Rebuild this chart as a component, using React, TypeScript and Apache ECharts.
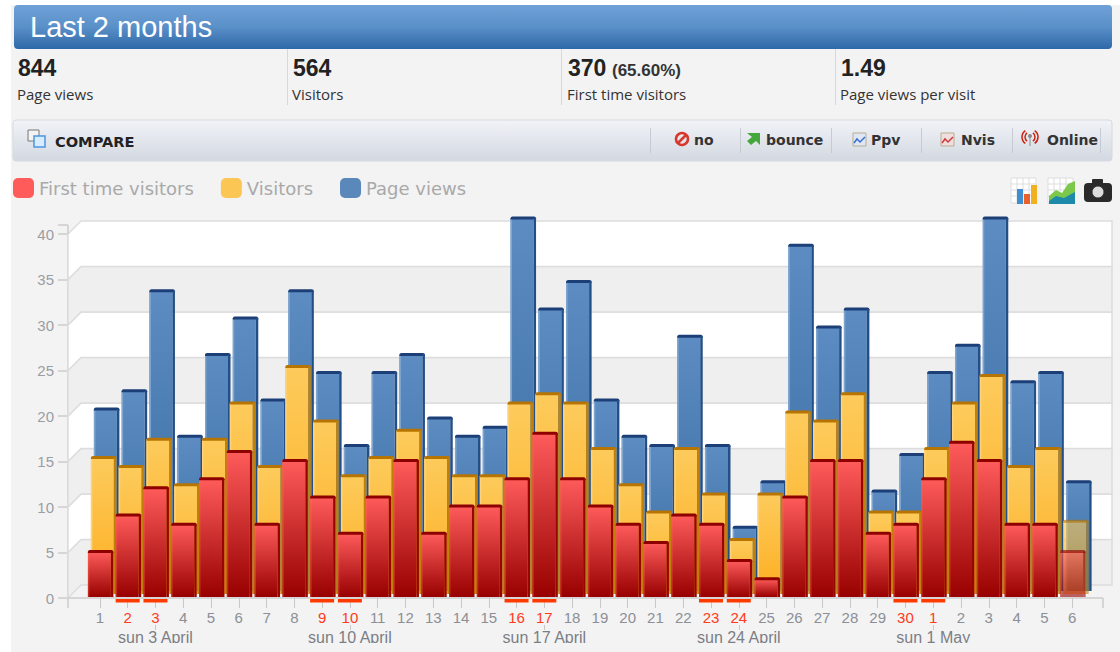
import React, { useEffect, useRef } from "react";
import * as echarts from "echarts";

const dayLabels = ["1","2","3","4","5","6","7","8","9","10","11","12","13","14","15","16","17","18","19","20","21","22","23","24","25","26","27","28","29","30","1","2","3","4","5","6"];
const pageViews = [20,22,33,17,26,30,21,33,24,16,24,26,19,17,18,41,31,34,21,17,16,28,16,7,12,38,29,31,11,15,24,27,41,23,24,12];
const visitors = [15,14,17,12,17,21,14,25,19,13,15,18,15,13,13,21,22,21,16,12,9,16,11,6,11,20,19,22,9,9,16,21,24,14,16,8];
const firstTime = [5,9,12,8,13,16,8,15,11,7,11,15,7,10,10,13,18,13,10,8,6,9,8,4,2,11,15,15,7,8,13,17,15,8,8,5];
const weekendIdx = [1,2,8,9,15,16,22,23,29,30];
const sundayLabels: Record<number, string> = { 2: "sun 3 April", 9: "sun 10 April", 16: "sun 17 April", 23: "sun 24 April", 30: "sun 1 May" };
const partialIdx = 35;
const yBands = [[0,5],[5,10],[10,15],[15,20],[20,25],[25,30],[30,35],[35,40]];
const statValues = ["844","564","370","1.49"];
const statLabels = ["Page views","Visitors","First time visitors","Page views per visit"];
const compareButtons = ["no","bounce","Ppv","Nvis","Online"];

const LABEL_FONT = "Liberation Sans";
const VERDANA = "DejaVu Sans";
const lg = (stops: string[]) => new echarts.graphic.LinearGradient(0, 0, 0, 1, stops.map((c, i) => ({ offset: i / (stops.length - 1), color: c })));

function barSeries(name: string, values: number[], dx: number, dy: number, legendColor: string, top: string, bottom: string, highlight: string, capEdge: string, sideEdge: string, translucent: boolean) {
  return {
    type: "custom", name, itemStyle: { color: legendColor }, z: 3, silent: true,
    encode: { x: 0, y: 1 }, clip: false,
    data: values.map((v, i) => [i, v]),
    renderItem: (_p: any, api: any) => {
      const i = api.value(0); const v = api.value(1);
      const [cx, yTop] = api.coord([i, v]); const [, y0] = api.coord([i, 0]);
      const w = 23;
      const x = cx - 12 + dx; const y = yTop + dy; const h = y0 + dy - y;
      const op = translucent && i === partialIdx ? 0.62 : 1;
      return { type: "group", children: [
        { type: "rect", shape: { x, y, width: w, height: h }, style: { fill: lg([top, bottom]), opacity: op } },
        { type: "rect", shape: { x, y, width: 1.5, height: h }, style: { fill: highlight, opacity: op } },
        { type: "rect", shape: { x, y: y - 1.5, width: w + 2.5, height: 3, r: [2, 2, 0, 0] }, style: { fill: capEdge, opacity: op } },
        { type: "rect", shape: { x: x + w, y: y, width: 2.5, height: h }, style: { fill: sideEdge, opacity: op } },
      ] };
    },
  };
}

function chromeElements(): any[] {
  const el: any[] = [];
  const T = (x: number, y: number, text: string, font: any) => el.push({ type: "text", x, y, style: { text, textVerticalAlign: "middle", verticalAlign: "middle", ...font } });
  el.push({ type: "rect", z: -20, shape: { x: 11, y: 5, width: 1109, height: 647 }, style: { fill: "#f3f3f3" } });
  el.push({ type: "rect", shape: { x: 14, y: 5, width: 1098, height: 44, r: 4 }, style: { fill: lg(["#6fa1d8", "#5a90c8", "#2e68a8"]) } });
  T(30, 27, "Last 2 months", { fill: "#fff", font: `29px "${LABEL_FONT}"` });
  const sx = [18, 293, 568, 841];
  statValues.forEach((s, i) => {
    T(sx[i], 68, s, { fill: "#222", font: `bold 23px "${LABEL_FONT}"` });
    T(sx[i] - 1, 94, statLabels[i], { fill: "#333", font: `15px "Open Sans"` });
  });
  T(612, 70, "(65.60%)", { fill: "#333", font: `bold 17px "${LABEL_FONT}"` });
  [287, 561, 835].forEach((x) => el.push({ type: "rect", shape: { x, y: 49, width: 1, height: 56 }, style: { fill: "#d8d8d8" } }));
  el.push({ type: "rect", shape: { x: 13, y: 120, width: 1099, height: 41, r: 3 }, style: { fill: lg(["#f1f3f7", "#d3d8e1"]), stroke: "#d5d9e0", lineWidth: 1 } });
  T(55, 141, "COMPARE", { fill: "#222", font: `bold 14.6px "${VERDANA}"` });
  el.push({ type: "rect", shape: { x: 28, y: 130, width: 11, height: 11 }, style: { fill: "#f3f3f3", stroke: "#777", lineWidth: 1 } });
  el.push({ type: "rect", shape: { x: 34, y: 136, width: 11, height: 11 }, style: { fill: "#d8ecff", stroke: "#4d94e0", lineWidth: 1.5 } });
  [650, 740, 831, 921, 1012, 1100].forEach((x) => el.push({ type: "rect", shape: { x, y: 128, width: 1, height: 25 }, style: { fill: "#c6cbd3" } }));
  const bx = [694, 766, 871, 961, 1047];
  compareButtons.forEach((s, i) => T(bx[i], 140, s, { fill: "#333", font: `bold 14px "${VERDANA}"` }));
  // no icon
  el.push({ type: "circle", shape: { cx: 682, cy: 139, r: 6 }, style: { fill: "none", stroke: "#d8382c", lineWidth: 2.5 } });
  el.push({ type: "line", shape: { x1: 678, y1: 143, x2: 686, y2: 135 }, style: { stroke: "#d8382c", lineWidth: 2.5 } });
  // bounce icon
  el.push({ type: "polygon", shape: { points: [[747,133],[760,133],[760,145],[756,141],[751,145],[747,141],[752,137]] }, style: { fill: "#45a83c" } });
  // ppv & nvis icons
  ([[853, "#3b6fd0", "#dfe6f4"], [941, "#cc3b3b", "#f0dfdf"]] as [number, string, string][]).forEach(([x, c, b]) => {
    el.push({ type: "rect", shape: { x, y: 133, width: 13, height: 13 }, style: { fill: b, stroke: "#b9ad8f", lineWidth: 1 } });
    el.push({ type: "polyline", shape: { points: [[x + 1, 143], [x + 4, 139], [x + 7, 142], [x + 12, 137]] }, style: { stroke: c, lineWidth: 1.5, fill: "none" } });
  });
  // online icon
  [5, 8].forEach((r) => {
    el.push({ type: "arc", shape: { cx: 1030, cy: 137, r, startAngle: Math.PI * 0.7, endAngle: Math.PI * 1.3 }, style: { stroke: "#cc2211", lineWidth: 1.5, fill: "none" } });
    el.push({ type: "arc", shape: { cx: 1030, cy: 137, r, startAngle: -Math.PI * 0.3, endAngle: Math.PI * 0.3 }, style: { stroke: "#cc2211", lineWidth: 1.5, fill: "none" } });
  });
  el.push({ type: "circle", shape: { cx: 1030, cy: 136, r: 2 }, style: { fill: "#888" } });
  el.push({ type: "line", shape: { x1: 1030, y1: 138, x2: 1030, y2: 146 }, style: { stroke: "#aaa", lineWidth: 1.5 } });
  // top right icons: grid
  [1011, 1048].forEach((x0) => {
    el.push({ type: "rect", shape: { x: x0, y: 178, width: 25, height: 25 }, style: { fill: "#fff", stroke: "#ddd", lineWidth: 1 } });
    for (let k = 1; k < 4; k++) {
      el.push({ type: "line", shape: { x1: x0 + k * 6, y1: 178, x2: x0 + k * 6, y2: 203 }, style: { stroke: "#ddd", lineWidth: 1 } });
      el.push({ type: "line", shape: { x1: x0, y1: 178 + k * 6, x2: x0 + 25, y2: 178 + k * 6 }, style: { stroke: "#ddd", lineWidth: 1 } });
    }
  });
  el.push({ type: "rect", shape: { x: 1017, y: 189, width: 6, height: 15 }, style: { fill: "#3f8fd0" } });
  el.push({ type: "rect", shape: { x: 1024, y: 194, width: 6, height: 10 }, style: { fill: "#e8622c" } });
  el.push({ type: "rect", shape: { x: 1031, y: 185, width: 6, height: 19 }, style: { fill: "#f0b020" } });
  el.push({ type: "polygon", shape: { points: [[1049,196],[1056,190],[1062,193],[1068,184],[1075,181],[1075,204],[1049,204]] }, style: { fill: "#7cc84a" } });
  el.push({ type: "polygon", shape: { points: [[1049,201],[1056,196],[1064,198],[1075,192],[1075,204],[1049,204]] }, style: { fill: "#1c8aa8" } });
  el.push({ type: "rect", shape: { x: 1084, y: 183, width: 28, height: 19, r: 4 }, style: { fill: "#2a2a2a" } });
  el.push({ type: "rect", shape: { x: 1092, y: 179, width: 11, height: 6, r: 1 }, style: { fill: "#2a2a2a" } });
  el.push({ type: "circle", shape: { cx: 1098, cy: 192, r: 6 }, style: { fill: "#ddd", stroke: "#2a2a2a", lineWidth: 1 } });
  // clips the lower part of the date row, as in the reference
  el.push({ type: "rect", z: 50, shape: { x: 11, y: 643, width: 1109, height: 9 }, style: { fill: "#f3f3f3" } });
  return el;
}

export default function App() {
  const ref = useRef<HTMLDivElement>(null);
  useEffect(() => {
    document.body.style.margin = "0";
    const chart = echarts.init(ref.current!, undefined, { renderer: "svg" });
    const DEPTH = 13;
    chart.setOption({
      animation: false,
      grid: { left: 86, right: 34, top: 234, bottom: 54, containLabel: false },
      legend: {
        left: 13, top: 178, padding: 0, itemWidth: 21, itemHeight: 20, itemGap: 27, selectedMode: false,
        icon: "roundRect",
        data: ["First time visitors", "Visitors", "Page views"],
        textStyle: { color: "#a9a9a9", fontSize: 18, fontFamily: VERDANA },
      },
      xAxis: [
        {
          type: "category", data: dayLabels, position: "bottom",
          axisLine: { show: false },
          axisTick: { show: true, alignWithLabel: true, length: 10, lineStyle: { color: "#c8c8c8", width: 1 } },
          axisLabel: {
            interval: 0, margin: 12, fontSize: 15, fontFamily: LABEL_FONT,
            color: (_v: any, i: number) => (weekendIdx.includes(i) ? "#ff3b1a" : "#8c8f96"),
          },
        },
        {
          type: "category", data: dayLabels.map((_, i) => sundayLabels[i] ?? ""), position: "bottom", offset: 27,
          axisLine: { show: false },
          axisTick: { show: true, alignWithLabel: true, length: 5, interval: (i: number) => i in sundayLabels, lineStyle: { color: "#c8c8c8" } },
          axisLabel: { interval: 0, margin: 4, fontSize: 16, fontFamily: LABEL_FONT, color: "#7b7e85", hideOverlap: false },
        },
      ],
      yAxis: {
        type: "value", min: 0, max: 40, interval: 5, position: "left", offset: 18,
        axisLine: { show: true, lineStyle: { color: "#cccccc", width: 1.5 } },
        axisTick: { show: true, length: 10, lineStyle: { color: "#cccccc", width: 1.5 } },
        axisLabel: { margin: 14, fontSize: 15, fontFamily: LABEL_FONT, color: "#9a9da3" },
        splitLine: { show: false },
      },
      series: [
        {
          type: "custom", name: "wall", silent: true, z: 1, clip: false, encode: { y: [0, 1] },
          data: yBands,
          renderItem: (p: any, api: any) => {
            const cs = p.coordSys;
            const l = cs.x - 18; const r = cs.x + cs.width + 26;
            const lo = api.coord([0, api.value(0)])[1]; const hi = api.coord([0, api.value(1)])[1];
            return { type: "polygon",
              shape: { points: [[l, lo], [l + DEPTH, lo - DEPTH], [r, lo - DEPTH], [r, hi - DEPTH], [l + DEPTH, hi - DEPTH], [l, hi]] },
              style: { fill: p.dataIndex % 2 === 0 ? "#efefef" : "#ffffff", stroke: "#dddddd", lineWidth: 1.5 } };
          },
        },
        {
          type: "custom", name: "floor", silent: true, z: 2, clip: false, encode: { y: 0 }, data: [[0]],
          renderItem: (p: any, api: any) => {
            const cs = p.coordSys;
            const y0 = api.coord([0, 0])[1];
            const yTop = api.coord([0, 40])[1];
            const l = cs.x - 18; const r = cs.x + cs.width + 17;
            const ln = (x1: number, y1: number, x2: number, y2: number) => ({ type: "line", shape: { x1, y1, x2, y2 }, style: { stroke: "#cccccc", lineWidth: 1.5 } });
            return { type: "group", children: [ln(l, y0, r, y0), ln(l, y0, l, y0 + 10), ln(r, y0, r, y0 + 10), ln(l, yTop, l, yTop - 9), ln(l - 10, yTop - 9, l, yTop - 9)] };
          },
        },
        barSeries("Page views", pageViews, 6, -7, "#5b88bb", "#5c8cc2", "#376a9f", "#7fa5cf", "#1c3f78", "#234f88", false),
        barSeries("Visitors", visitors, 3, -4, "#fcc655", "#fdcb5c", "#fdae20", "#fdd27a", "#b87400", "#c0800a", true),
        barSeries("First time visitors", firstTime, 0, -1, "#ff5b5b", "#ff5c5c", "#980000", "rgba(255,110,70,0.35)", "#8e0000", "#960500", true),
        {
          type: "custom", name: "weekend", silent: true, z: 4, clip: false, encode: { x: 0 },
          data: weekendIdx.map((i) => [i]),
          renderItem: (_p: any, api: any) => {
            const [cx, y0] = api.coord([api.value(0), 0]);
            return { type: "rect", shape: { x: cx - 12, y: y0 + 1, width: 24, height: 3.5 }, style: { fill: "#ff3a00" } };
          },
        },
      ],
      graphic: { elements: chromeElements() },
    });
    return () => chart.dispose();
  }, []);
  return <div ref={ref} style={{ width: 1120, height: 652, background: "#fff" }} />;
}
